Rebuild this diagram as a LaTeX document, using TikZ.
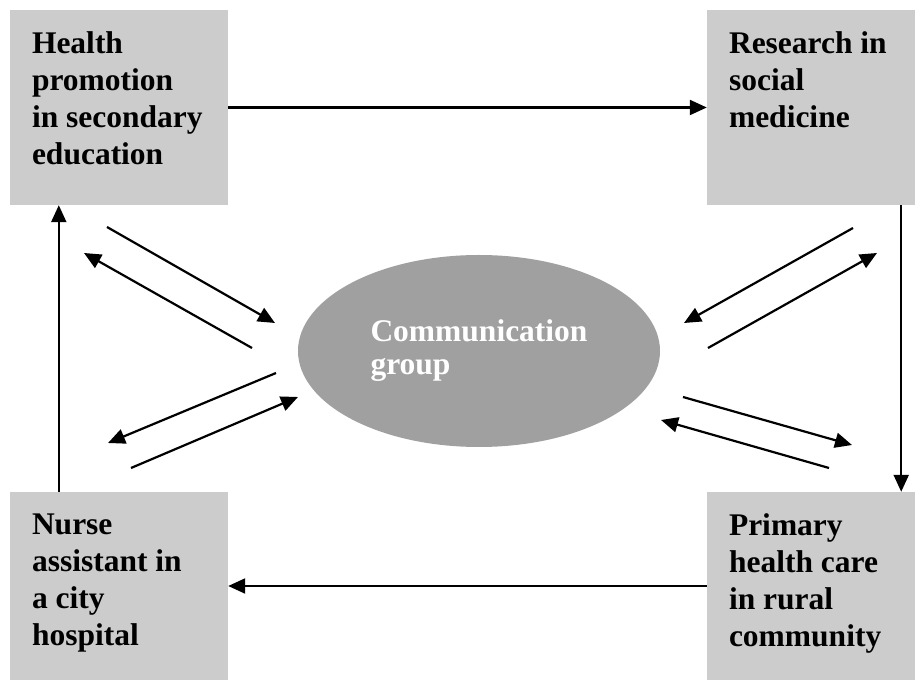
\documentclass[tikz,border=0pt]{standalone}
\usepackage{fontspec}
\setmainfont{Liberation Serif}
\usetikzlibrary{shapes,arrows.meta}
\usetikzlibrary{positioning}
\definecolor{boxgray}{RGB}{204,204,204}
\definecolor{groupgray}{RGB}{160,160,160}
\tikzstyle{box}=[fill=boxgray, minimum width=218pt, minimum height=195pt, inner sep=0pt]
\tikzstyle{boxtext}=[anchor=north west, align=left, inner sep=0pt,
font=\bfseries\fontsize{31.5}{37}\selectfont]
\tikzstyle{group}=[ellipse, fill=groupgray, minimum width=362pt, minimum height=192pt,
inner sep=0pt, text=white, align=left, font=\bfseries\fontsize{31.5}{33}\selectfont]
\tikzstyle{myarrow}=[-{Triangle[length=17pt, width=15pt]}, line width=2.2pt]

\begin{document}
\begin{tikzpicture}[x=1pt, y=1pt]

    \useasboundingbox (0,0) rectangle (915,680);

    % BOXES
    \node[box] (hpse) at (119,572.5) {};
    \node[boxtext, below right=22pt and 22pt of hpse.north west] (hpseText) {Health\\promotion\\in secondary\\education};

    \node[box, minimum width=208pt] (rsm) at (811,572.5) {};
    \node[boxtext, below right=22pt and 22pt of rsm.north west] (rsmText) {Research in\\social\\medicine};

    \node[box, minimum height=188pt] (nac) at (119,94) {};
    \node[boxtext, below right=22pt and 22pt of nac.north west] (nacText) {Nurse\\assistant in\\a city\\hospital};

    \node[box, minimum width=208pt, minimum height=188pt] (phc) at (811,94) {};
    \node[boxtext, below right=22pt and 22pt of phc.north west] (phcText) {Primary\\health care\\in rural\\community};

    % COMMUNICATION GROUP
    \node[group] (comm) at (479,329) {Communication\\group};

    % CYCLE
    \draw[myarrow] (hpse.east) -- (rsm.west) ;
    \draw[myarrow] ([xshift=-14pt]rsm.south east) -- ([xshift=-14pt]phc.north east) ;
    \draw[myarrow] (phc.west) -- (nac.east) ;
    \draw[myarrow] ([xshift=49pt]nac.north west) -- ([xshift=49pt]hpse.south west) ;

    % LEFT PAIRS
    \coordinate (a1) at (107,453) ; \coordinate (b1) at (275,357) ;
    \coordinate (a2) at (252,332) ; \coordinate (b2) at (84,427) ;
    \coordinate (a3) at (276,307) ; \coordinate (b3) at (108,237) ;
    \coordinate (a4) at (131,212) ; \coordinate (b4) at (298,283) ;
    \draw[myarrow] (a1) -- (b1) ;
    \draw[myarrow] (a2) -- (b2) ;
    \draw[myarrow] (a3) -- (b3) ;
    \draw[myarrow] (a4) -- (b4) ;

    % RIGHT PAIRS
    \coordinate (a5) at (853,452) ; \coordinate (b5) at (684,357) ;
    \coordinate (a6) at (708,332) ; \coordinate (b6) at (877,427) ;
    \coordinate (a7) at (683,283) ; \coordinate (b7) at (852,235) ;
    \coordinate (a8) at (829,212) ; \coordinate (b8) at (661,260) ;
    \draw[myarrow] (a5) -- (b5) ;
    \draw[myarrow] (a6) -- (b6) ;
    \draw[myarrow] (a7) -- (b7) ;
    \draw[myarrow] (a8) -- (b8) ;

\end{tikzpicture}
\end{document}
